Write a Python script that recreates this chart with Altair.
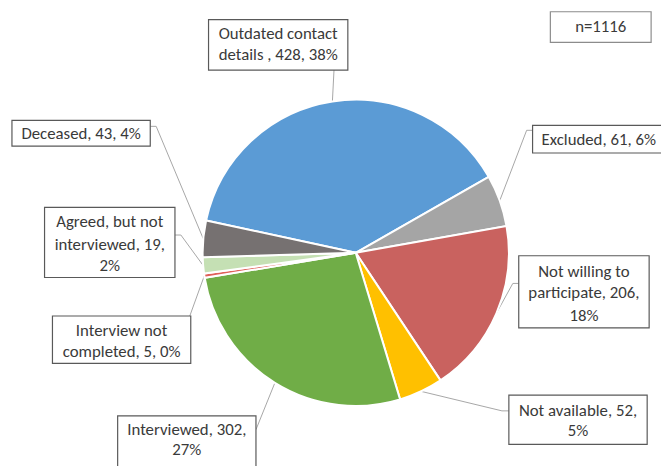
import math
import altair as alt
import pandas as pd

# ---- data ----
categories = ["Outdated contact details", "Excluded", "Not willing to participate",
              "Not available", "Interviewed", "Interview not completed",
              "Agreed, but not interviewed", "Deceased"]
counts = [428, 61, 206, 52, 302, 5, 19, 43]
label_lines = [
    ["Outdated contact", "details , 428, 38%"],
    ["Excluded, 61, 6%"],
    ["Not willing to", "participate, 206,", "18%"],
    ["Not available, 52,", "5%"],
    ["Interviewed, 302,", "27%"],
    ["Interview not", "completed, 5, 0%"],
    ["Agreed, but not", "interviewed, 19,", "2%"],
    ["Deceased, 43, 4%"],
]
colors = ["#5B9BD5", "#A5A5A5", "#C9625F", "#FFC000", "#70AD47", "#E0605A", "#C5E0B4", "#767171"]
n_text = "n=1116"

# ---- layout (pixels inside the chart) ----
OFF = 8
CX, CY, R = 360 - OFF, 253 - OFF, 155
START_DEG = -77.8
# label boxes: x0, y0, x1, y1 (page coords)
boxes = [
    (211, 17, 352, 68),
    (539, 124, 673, 152),
    (525, 256, 657, 329),
    (515, 397, 655, 447),
    (119, 418, 259, 482),
    (53, 317, 193, 365),
    (45, 207, 177, 278),
    (12, 119, 152, 145),
]
line_y = [
    [32, 53],
    [139],
    [272, 294, 317],
    [413, 433],
    [432, 453],
    [332, 353],
    [222, 245, 266],
    [133],
]
text_cx = [281.5, 606, 591, 585, 189, 123, 111, 82]
# leader start points (page coords): list of points before the rim anchor
leader_pts = [
    [(338, 68)],
    [(539, 129), (533, 129)],
    [(525, 284), (519, 284)],
    [(515, 413), (508, 413)],
    [(259, 432)],
    [(192, 317)],
    [(177, 235), (183, 235)],
    [(152, 125), (158, 125)],
]
n_box = (557, 9, 659, 40)

total = sum(counts)
pie_df = pd.DataFrame({"cat": categories, "n": counts, "idx": list(range(len(counts)))})
start_rad = math.radians(START_DEG % 360)

pie = alt.Chart(pie_df).mark_arc(outerRadius=R, stroke="white", strokeWidth=2).encode(
    theta=alt.Theta("n:Q", stack=True, scale=alt.Scale(range=[start_rad, start_rad + 2 * math.pi])),
    color=alt.Color("cat:N", scale=alt.Scale(domain=categories, range=colors), legend=None),
    order=alt.Order("idx:Q"),
    x=alt.value(CX),
    y=alt.value(CY),
)

# leader segments
segs = []
cum = 0
for i, c in enumerate(counts):
    mid = START_DEG + (cum + c / 2) / total * 360
    cum += c
    ax = CX + R * math.sin(math.radians(mid))
    ay = CY - R * math.cos(math.radians(mid))
    pts = [(px - OFF, py - OFF) for px, py in leader_pts[i]] + [(ax, ay)]
    for (x1, y1), (x2, y2) in zip(pts[:-1], pts[1:]):
        segs.append({"x": x1, "y": y1, "x2": x2, "y2": y2})
seg_df = pd.DataFrame(segs)
leaders = alt.Chart(seg_df).mark_rule(color="#A6A6A6", strokeWidth=1).encode(
    x=alt.X("x:Q", scale=None, axis=None), y=alt.Y("y:Q", scale=None, axis=None),
    x2="x2:Q", y2="y2:Q",
)

box_df = pd.DataFrame([{"x0": b[0] - OFF, "y0": b[1] - OFF, "x1": b[2] - OFF, "y1": b[3] - OFF} for b in boxes])
box_layer = alt.Chart(box_df).mark_rect(fill="white", stroke="#595959", strokeWidth=1.2).encode(
    x=alt.X("x0:Q", scale=None, axis=None), x2="x1:Q",
    y=alt.Y("y0:Q", scale=None, axis=None), y2="y1:Q",
)

nb_df = pd.DataFrame([{"x0": n_box[0] - OFF, "y0": n_box[1] - OFF, "x1": n_box[2] - OFF, "y1": n_box[3] - OFF}])
nbox_layer = alt.Chart(nb_df).mark_rect(fill="white", stroke="#8C8C8C", strokeWidth=1.2).encode(
    x=alt.X("x0:Q", scale=None, axis=None), x2="x1:Q",
    y=alt.Y("y0:Q", scale=None, axis=None), y2="y1:Q",
)

rows = []
for i, lines in enumerate(label_lines):
    for t, yy in zip(lines, line_y[i]):
        rows.append({"t": t, "x": text_cx[i] - OFF, "y": yy - OFF})
rows.append({"t": n_text, "x": (n_box[0] + n_box[2]) / 2 - OFF, "y": (n_box[1] + n_box[3]) / 2 - OFF})
txt_df = pd.DataFrame(rows)
texts = alt.Chart(txt_df).mark_text(
    font="Carlito, Calibri, Lato, sans-serif", fontSize=17, color="#3A3A3A",
    align="center", baseline="middle",
).encode(
    x=alt.X("x:Q", scale=None, axis=None), y=alt.Y("y:Q", scale=None, axis=None), text="t:N",
)

chart = alt.layer(leaders, pie, box_layer, nbox_layer, texts).properties(
    width=661, height=458, padding=0, autosize=alt.AutoSizeParams(type="none"),
).configure_view(strokeWidth=0)

chart.save("out.html", embed_options={"renderer": "svg", "actions": False})
